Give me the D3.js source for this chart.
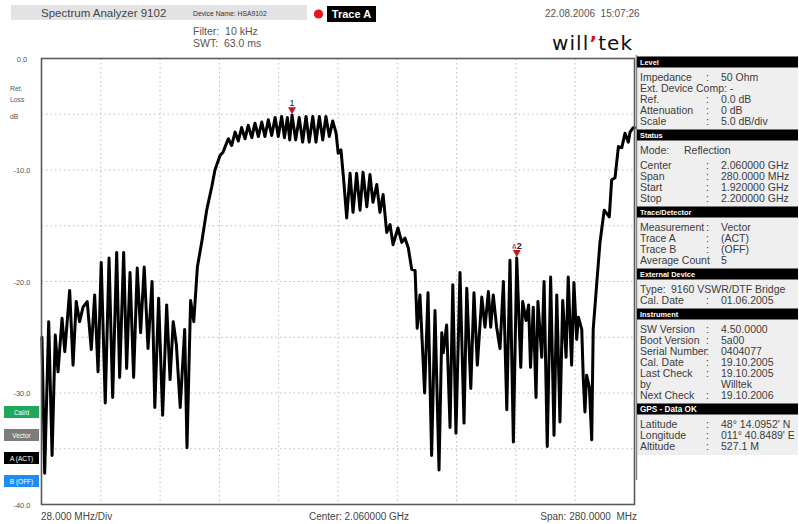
<!DOCTYPE html>
<html><head><meta charset="utf-8">
<script src="https://cdn.jsdelivr.net/npm/d3@7"></script>
<style>
body{margin:0;background:#fff;}
svg{display:block;font-family:"Liberation Sans",Arial,sans-serif;}
</style>
</head><body>
<svg id="c" width="799" height="524"></svg>
<script>
// ---------- DATA ----------
const freqMHz = [1920.2,1921.5,1923.4,1925.0,1926.5,1927.8,1929.7,1931.0,1933.3,1934.9,1936.4,1938.0,1939.6,1941.6,1943.5,1945.1,1946.7,1948.2,1950.1,1951.9,1953.6,1955.5,1956.9,1958.8,1960.2,1961.8,1963.5,1965.2,1966.8,1968.5,1970.3,1972.2,1973.5,1975.3,1977.2,1979.1,1980.7,1982.2,1983.7,1985.5,1987.6,1988.7,1990.4,1991.9,1993.6,
1995.8,1998.0,2000.4,2001.9,2004.3,2005.7,
2008.2,2009.8,2011.4,2012.9,2014.5,2016.1,2017.6,2019.3,2020.8,2022.4,2024.0,2025.5,2027.1,2028.7,2030.3,2031.8,2033.4,2034.7,2036.1,2037.2,2038.3,2040.0,2041.7,2043.3,2044.9,2046.4,2048.1,2049.6,2051.2,2052.8,2054.3,2055.9,2057.5,2059.1,
2060.1,2061.4,2062.6,2064.1,2065.7,2067.1,2068.8,2070.4,2071.8,2073.6,2075.1,2076.5,2078.3,2079.8,2081.3,2083.0,2084.6,2086.0,2088.3,2090.1,2091.6,2093.2,2094.8,2096.4,2097.4,
2098.7,2100.9,2102.5,2104.2,2105.8,2107.7,2109.0,2109.7,2111.3,2112.9,2114.2,2115.7,2117.6,2119.5,2120.8,2122.7,2124.2,2125.8,2127.9,2129.4,2131.0,2132.1,2133.3,2134.9,2136.5,2138.1,2139.7,2141.2,2142.8,2144.4,2146.3,2147.2,2148.8,2150.0,2150.9,2152.2,2153.5,2154.4,2156.2,2157.3,2158.8,2160.4,2162.0,2163.3,2164.8,2166.1,2167.7,2168.7,2170.3,2171.4,2172.7,2173.5,2175.1,2175.8,2176.6,2177.4,2178.7,2179.8,
2180.5,2182.2,2183.7,2185.7,2188.1,2189.2,2190.8,2192.4,2194.0,2195.5,2197.1,2197.9,2199.4,2200.0];

const retLossDb = [-25.0,-37.2,-23.6,-35.6,-24.8,-28.1,-23.3,-26.3,-20.8,-27.5,-21.8,-23.6,-22.3,-21.8,-26.1,-21.2,-28.1,-18.3,-30.9,-17.9,-30.4,-17.4,-28.6,-17.4,-27.8,-19.2,-28.6,-18.8,-24.6,-18.7,-26.0,-20.0,-31.3,-21.5,-32.0,-22.1,-28.8,-23.6,-25.7,-31.3,-24.3,-34.9,-21.7,-23.6,-18.7,
-16.3,-13.6,-11.5,-10.0,-8.7,-8.4,
-7.2,-7.8,-6.6,-7.4,-6.2,-7.2,-6.0,-7.1,-5.8,-7.0,-5.7,-7.0,-5.5,-6.9,-5.3,-7.0,-5.2,-7.1,-5.3,-7.3,-5.1,-7.3,-5.3,-7.5,-5.2,-7.5,-5.2,-7.5,-5.2,-7.3,-5.2,-7.0,-5.6,-6.7,
-8.5,-8.2,-10.7,-14.3,-10.3,-13.8,-10.3,-13.6,-10.2,-13.3,-10.4,-12.9,-11.3,-13.8,-12.2,-15.6,-14.9,-16.7,-15.2,-16.5,-16.1,-17.0,-18.9,-19.0,-24.2,
-21.2,-30.0,-21.0,-35.6,-22.6,-36.9,-24.6,-26.4,-23.9,-33.1,-20.3,-33.6,-19.2,-32.7,-20.6,-29.6,-21.0,-27.5,-21.4,-24.1,-20.9,-24.1,-21.2,-24.1,-26.0,-20.0,-31.5,-18.1,-34.4,-17.9,-27.7,-21.8,-23.5,-22.1,-27.7,-22.3,-30.4,-21.8,-26.8,-20.0,-34.8,-19.6,-33.8,-21.2,-32.6,-21.7,-26.8,-19.6,-27.5,-20.1,-25.2,-23.2,-24.3,-28.6,-31.7,-28.4,-29.5,-34.2,
-24.3,-20.1,-16.5,-13.6,-14.2,-10.9,-10.7,-7.9,-8.0,-6.7,-7.5,-6.6,-6.2,-6.2];

const freqDomain = [1920, 2200];
const dbDomain = [0, -40];
const yTickValues = [0, -10, -20, -30, -40];
const yTickLabels = ["0.0", "-10.0", "-20.0", "-30.0", "-40.0"];
const xDivisions = 10;
const yDivisions = 8;

const markerIds = ["1", "2"];
const markerFreq = [2038.3, 2144.4];
const markerDb = [-5.1, -17.9];
const markerDelta = [false, true];

const bottomLabels = ["28.000 MHz/Div", "Center: 2.060000 GHz", "Span: 280.0000  MHz"];
const yAxisTitle = ["Ret.", "Loss", "dB"];
const buttonLabels = ["Cal/d", "Vector", "A (ACT)", "B (OFF)"];
const buttonColors = ["#1fa85a", "#7d7d7a", "#000000", "#1e8cf5"];

const panelTitles = ["Level", "Status", "Trace/Detector", "External Device", "Instrument", "GPS - Data OK"];
const panelRows = [
  [["Impedance", ":", "50 Ohm"], ["Ext. Device Comp: -"], ["Ref.", ":", "0.0 dB"], ["Attenuation", ":", "0 dB"], ["Scale", ":", "5.0 dB/div"]],
  [["Mode:", "", "Reflection", "mode"], ["Center", ":", "2.060000 GHz", "gap"], ["Span", ":", "280.0000 MHz"], ["Start", ":", "1.920000 GHz"], ["Stop", ":", "2.200000 GHz"]],
  [["Measurement", ":", "Vector"], ["Trace A", ":", "(ACT)"], ["Trace B", ":", "(OFF)"], ["Average Count", "", "5"]],
  [["Type:", "", "9160 VSWR/DTF Bridge", "type"], ["Cal. Date", ":", "01.06.2005"]],
  [["SW Version", ":", "4.50.0000"], ["Boot Version", ":", "5a00"], ["Serial Number", ":", "0404077"], ["Cal. Date", ":", "19.10.2005"], ["Last Check", ":", "19.10.2005"], ["by", "", "Willtek"], ["Next Check", ":", "19.10.2006"]],
  [["Latitude", ":", "48° 14.0952' N"], ["Longitude", ":", "011° 40.8489' E"], ["Altitude", ":", "527.1 M"]]
];

// ---------- DRAW ----------
const svg = d3.select("#c");
const P = {l: 41.5, r: 634.5, t: 58.5, b: 504.5};
const x = d3.scaleLinear().domain(freqDomain).range([P.l, P.r]);
const y = d3.scaleLinear().domain(dbDomain).range([P.t, P.b]);

// header
svg.append("rect").attr("x", 11).attr("y", 5).attr("width", 296).attr("height", 15).attr("fill", "#e3e3e3");
svg.append("text").attr("x", 41).attr("y", 17).attr("font-size", 11.5).attr("fill", "#454545").text("Spectrum Analyzer 9102");
svg.append("text").attr("x", 193).attr("y", 15.5).attr("font-size", 6.8).attr("fill", "#333").text("Device Name: HSA9102");
svg.append("circle").attr("cx", 318.5).attr("cy", 14).attr("r", 4.6).attr("fill", "#e8141b");
svg.append("rect").attr("x", 327).attr("y", 6).attr("width", 49).attr("height", 16).attr("fill", "#000");
svg.append("text").attr("x", 351.5).attr("y", 18).attr("text-anchor", "middle").attr("font-size", 11).attr("font-weight", "bold").attr("fill", "#fff").text("Trace A");
svg.append("text").attr("x", 193).attr("y", 35).attr("font-size", 10.5).attr("fill", "#555").attr("xml:space", "preserve").text("Filter:  10 kHz");
svg.append("text").attr("x", 193).attr("y", 47).attr("font-size", 10.5).attr("fill", "#555").attr("xml:space", "preserve").text("SWT:  63.0 ms");
svg.append("text").attr("x", 545).attr("y", 17).attr("font-size", 10).attr("fill", "#555").attr("xml:space", "preserve").text("22.08.2006  15:07:26");
const logo = svg.append("text").attr("x", 552).attr("y", 50).attr("font-size", 20).attr("font-family", "'DejaVu Sans', sans-serif").attr("letter-spacing", 1.1).attr("fill", "#111");
logo.append("tspan").text("will");
logo.append("tspan").attr("fill", "#e0141b").attr("font-weight", "bold").text("\u2019");
logo.append("tspan").text("tek");

// grid
const g = svg.append("g");
const xGrid = d3.range(1, xDivisions).map(i => freqDomain[0] + i * (freqDomain[1] - freqDomain[0]) / xDivisions);
const yGrid = d3.range(1, yDivisions).map(i => dbDomain[0] + i * (dbDomain[1] - dbDomain[0]) / yDivisions);
g.selectAll(".vg").data(xGrid).join("line")
  .attr("x1", d => x(d)).attr("x2", d => x(d)).attr("y1", P.t).attr("y2", P.b)
  .attr("stroke", "#bdbdbd").attr("stroke-width", 1).attr("stroke-dasharray", "1.5,3");
g.selectAll(".hg").data(yGrid).join("line")
  .attr("x1", P.l).attr("x2", P.r).attr("y1", d => y(d)).attr("y2", d => y(d))
  .attr("stroke", "#bdbdbd").attr("stroke-width", 1).attr("stroke-dasharray", "1.5,3");

// y tick labels
svg.selectAll(".yl").data(yTickValues).join("text")
  .attr("x", 22).attr("y", d => y(d) + 3).attr("text-anchor", "middle")
  .attr("font-size", 7.5).attr("fill", "#555").text((d, i) => yTickLabels[i]);
svg.selectAll(".yt").data(yAxisTitle).join("text")
  .attr("x", 10).attr("y", (d, i) => [91, 102, 119][i]).attr("font-size", 6.8).attr("fill", "#555").text(d => d);

// buttons
buttonLabels.forEach((b, i) => {
  const by = 406 + i * 23;
  svg.append("rect").attr("x", 4).attr("y", by).attr("width", 35).attr("height", 12).attr("fill", buttonColors[i]);
  svg.append("text").attr("x", 21.5).attr("y", by + 8.5).attr("text-anchor", "middle").attr("font-size", 6.5).attr("fill", "#fff").text(b);
});

// trace
const pts = freqMHz.map((f, i) => [f, retLossDb[i]]);
svg.append("path").datum(pts)
  .attr("d", d3.line().x(d => x(d[0])).y(d => y(d[1])))
  .attr("fill", "none").attr("stroke", "#000").attr("stroke-width", 3)
  .attr("stroke-linejoin", "round").attr("stroke-linecap", "round");

// frame
svg.append("rect").attr("x", P.l).attr("y", P.t).attr("width", P.r - P.l).attr("height", P.b - P.t)
  .attr("fill", "none").attr("stroke", "#5a5a5a").attr("stroke-width", 1.6);

// markers
markerIds.forEach((id, i) => {
  const mx = x(markerFreq[i]), my = y(markerDb[i]) - 1;
  svg.append("path").attr("d", `M${mx - 4},${my - 7}L${mx + 4},${my - 7}L${mx},${my}Z`).attr("fill", "#c4161c");
  if (markerDelta[i]) {
    svg.append("path").attr("d", `M${mx - 4},${my - 9}L${mx - 1},${my - 9}L${mx - 2.5},${my - 13}Z`)
      .attr("fill", "none").attr("stroke", "#c4161c").attr("stroke-width", 0.8);
    svg.append("text").attr("x", mx).attr("y", my - 8).attr("font-size", 9).attr("font-weight", "bold").attr("fill", "#222").text(id);
  } else {
    svg.append("text").attr("x", mx).attr("y", my - 8).attr("text-anchor", "middle").attr("font-size", 9).attr("fill", "#222").text(id);
  }
});

// bottom labels
svg.append("text").attr("x", 41).attr("y", 520).attr("font-size", 10).attr("fill", "#444").text(bottomLabels[0]);
svg.append("text").attr("x", 359).attr("y", 520).attr("text-anchor", "middle").attr("font-size", 10).attr("fill", "#444").text(bottomLabels[1]);
svg.append("text").attr("x", 637).attr("y", 520).attr("text-anchor", "end").attr("font-size", 10).attr("fill", "#444").attr("xml:space", "preserve").text(bottomLabels[2]);

// right panel
const panel = svg.append("g");
panel.append("rect").attr("x", 637).attr("y", 56).attr("width", 161).attr("height", 399).attr("fill", "#efefef");
panel.append("line").attr("x1", 636.5).attr("x2", 636.5).attr("y1", 55).attr("y2", 480).attr("stroke", "#8a8a8a").attr("stroke-width", 1.5);
let cy = 62;
panelTitles.forEach((t, s) => {
  panel.append("rect").attr("x", 637).attr("y", cy - 5.5).attr("width", 161).attr("height", 11).attr("fill", "#000");
  panel.append("text").attr("x", 640).attr("y", cy + 2.8).attr("font-size", s === 5 ? 8.2 : 7.4).attr("font-weight", "bold").attr("fill", "#fff").text(t);
  cy += 15;
  panelRows[s].forEach((r, k) => {
    if (r[3] === "gap") cy += 4;
    const ty = cy + 3.8;
    const txt = (xx, str) => panel.append("text").attr("x", xx).attr("y", ty).attr("font-size", 10.5).attr("fill", "#3c3c3c").text(str);
    if (r.length === 1) { txt(640, r[0]); }
    else {
      txt(640, r[0]);
      if (r[1]) txt(706, r[1]);
      const vx = r[3] === "mode" ? 684 : (r[3] === "type" ? 671 : 721);
      txt(vx, r[2]);
    }
    if (k < panelRows[s].length - 1) cy += 11;
  });
  cy += 14;
});
</script>
</body></html>
